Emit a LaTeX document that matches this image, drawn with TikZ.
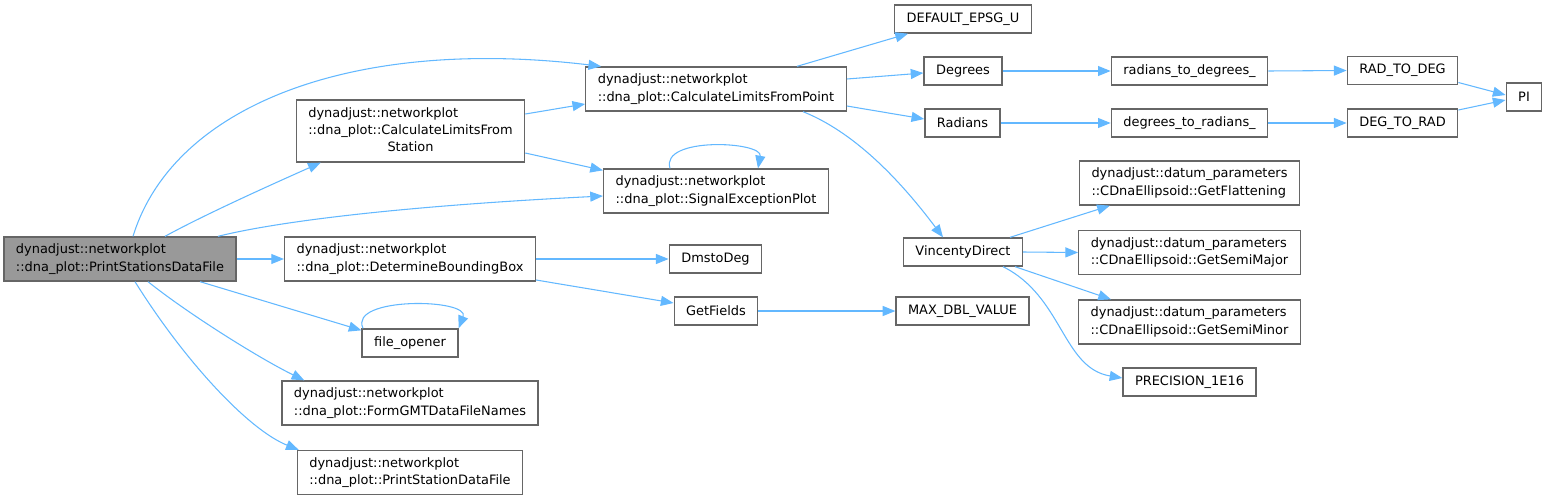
\documentclass[tikz,border=0pt]{standalone}
\usepackage{fontspec}
\setmainfont{DejaVu Sans}
\usepackage{tikz}
\usetikzlibrary{arrows.meta,calc}

\definecolor{edgeblue}{HTML}{63B8FF}
\definecolor{boxline}{HTML}{666666}
\definecolor{rootfill}{HTML}{999999}

\begin{document}
\begin{tikzpicture}[
  x=0.75pt, y=-0.75pt,
  font=\fontsize{9.7pt}{13.1pt}\selectfont,
  >={Triangle[length=9.5pt, width=7.5pt]},
  box/.style={draw=boxline, fill=white, line width=1pt, align=left, inner xsep=9pt, inner ysep=2pt},
  one/.style={box, minimum height=21pt},
  two/.style={box, minimum height=33pt},
  three/.style={box, minimum height=46.5pt},
  root/.style={two, fill=rootfill},
  arrow/.style={->, draw=edgeblue, line width=0.8pt}
]
  \useasboundingbox (0,0) rectangle (1549,500);

  % caller and first level
  \node[root] (psdf) at (120,259) {dynadjust::networkplot\\::dna\_plot::PrintStationsDataFile};
  \node[three] (clfs) at (410.5,131) {\begin{tabular}{@{}l@{}}dynadjust::networkplot\\::dna\_plot::CalculateLimitsFrom\\\multicolumn{1}{@{}c@{}}{Station}\end{tabular}};
  \node[two] (clfp) at (716,89) {dynadjust::networkplot\\::dna\_plot::CalculateLimitsFromPoint};
  \node[two] (sep) at (716,191) {dynadjust::networkplot\\::dna\_plot::SignalExceptionPlot};
  \node[two] (dbb) at (410,259) {dynadjust::networkplot\\::dna\_plot::DetermineBoundingBox};
  \node[one] (fo) at (410,343) {file\_opener};
  \node[two] (fgmt) at (410,403) {dynadjust::networkplot\\::dna\_plot::FormGMTDataFileNames};
  \node[two] (psdf2) at (410,472.5) {dynadjust::networkplot\\::dna\_plot::PrintStationDataFile};

  % second level
  \node[one] (dmsto) at (715.5,259) {DmstoDeg};
  \node[one] (getf) at (716,311) {GetFields};
  \node[one] (default) at (963,19) {DEFAULT\_EPSG\_U};
  \node[one] (deg) at (963,71) {Degrees};
  \node[one] (rad) at (962.5,123) {Radians};
  \node[one] (vd) at (963,252) {VincentyDirect};
  \node[one] (maxdbl) at (962.5,311) {MAX\_DBL\_VALUE};

  % third level and beyond
  \node[one] (r2d) at (1189.5,71) {radians\_to\_degrees\_};
  \node[one] (d2r) at (1189.5,123) {degrees\_to\_radians\_};
  \node[two] (flat) at (1189.5,183) {dynadjust::datum\_parameters\\::CDnaEllipsoid::GetFlattening};
  \node[two] (smaj) at (1189.5,252.5) {dynadjust::datum\_parameters\\::CDnaEllipsoid::GetSemiMajor};
  \node[two] (smin) at (1189.5,322) {dynadjust::datum\_parameters\\::CDnaEllipsoid::GetSemiMinor};
  \node[one] (prec) at (1189.5,382) {PRECISION\_1E16};
  \node[one] (R2D) at (1402.5,70.5) {RAD\_TO\_DEG};
  \node[one] (D2R) at (1402.5,123) {DEG\_TO\_RAD};
  \node[one] (PI) at (1524,97) {PI};

  % calls from PrintStationsDataFile
  \draw[arrow] ($(psdf.north)+(13,0)$) .. controls +(40,-130) and +(-250,-30) .. ($(clfp.north west)+(16,0)$);
  \draw[arrow] ($(psdf.north)+(45,0)$) .. controls +(40,-22) and +(-45,20) .. ($(clfs.south west)+(25,0)$);
  \draw[arrow] ($(psdf.north)+(98,0)$) .. controls +(60,-15) and +(-200,10) .. ($(sep.west)+(0,5)$);
  \draw[arrow] (psdf.east) -- (dbb.west);
  \draw[arrow] ($(psdf.south)+(80,0)$) -- ($(fo.north west)+(0,2)$);
  \draw[arrow] ($(psdf.south)+(28,0)$) .. controls +(40,32) and +(-45,-22) .. ($(fgmt.north west)+(23,0)$);
  \draw[arrow] ($(psdf.south)+(15,0)$) .. controls +(50,80) and +(-50,-20) .. ($(psdf2.north west)+(2,0)$);

  \draw[arrow] ($(clfs.east)+(0,-17)$) -- ($(clfp.west)+(0,15)$);
  \draw[arrow] ($(clfs.east)+(0,22)$) -- ($(sep.north west)+(0,2)$);
  \draw[arrow] ($(sep.north)+(-46,0)$) .. controls +(-10,-32) and +(5,-27) .. ($(sep.north)+(42,0)$);
  \draw[arrow] ($(fo.north)+(-47,0)$) .. controls +(-15,-32) and +(12,-30) .. (fo.north east);

  \draw[arrow] (dbb.east) -- (dmsto.west);
  \draw[arrow] ($(dbb.east)+(0,21)$) -- ($(getf.west)+(0,-8)$);
  \draw[arrow] (getf.east) -- (maxdbl.west);

  % calls from CalculateLimitsFromPoint
  \draw[arrow] ($(clfp.north)+(81,0)$) -- ($(default.south west)+(14,0)$);
  \draw[arrow] ($(clfp.east)+(0,-10)$) -- ($(deg.west)+(0,2)$);
  \draw[arrow] ($(clfp.east)+(0,17)$) -- ($(rad.west)+(0,-4)$);
  \draw[arrow] ($(clfp.south)+(87,0)$) .. controls +(50,20) and +(-45,-60) .. ($(vd.north)+(-20,0)$);

  \draw[arrow] (deg.east) -- (r2d.west);
  \draw[arrow] (rad.east) -- (d2r.west);
  \draw[arrow] (r2d.east) -- (R2D.west);
  \draw[arrow] (d2r.east) -- (D2R.west);
  \draw[arrow] ($(R2D.east)+(0,12)$) -- ($(PI.west)+(0,-2)$);
  \draw[arrow] ($(D2R.east)+(0,-13)$) -- ($(PI.west)+(0,3)$);

  % calls from VincentyDirect
  \draw[arrow] ($(vd.north)+(47,0)$) -- ($(flat.south west)+(31,0)$);
  \draw[arrow] (vd.east) -- (smaj.west);
  \draw[arrow] ($(vd.south)+(52,0)$) -- ($(smin.north west)+(33,0)$);
  \draw[arrow] ($(vd.south)+(40,0)$) .. controls +(60,30) and +(-60,-10) .. ($(prec.west)+(0,-4)$);
\end{tikzpicture}
\end{document}
